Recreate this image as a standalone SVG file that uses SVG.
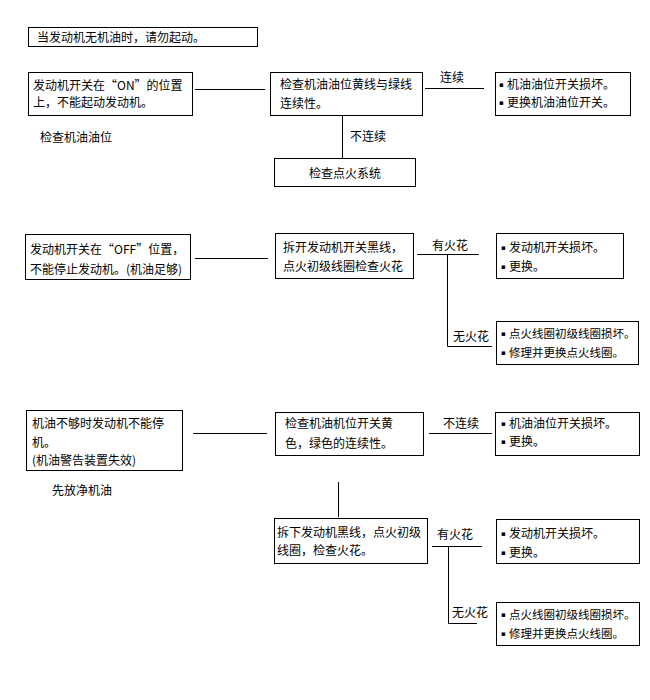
<svg xmlns="http://www.w3.org/2000/svg" width="650" height="700" viewBox="0 0 650 700">
<style>
  .box { fill: #ffffff; stroke: #000000; stroke-width: 1; }
  .t { font-family: "Noto Sans CJK SC", "Liberation Sans", sans-serif; font-size: 12px; fill: #000000; }
  .b { font-family: "DejaVu Sans", sans-serif; font-size: 7px; fill: #000000; }
  .s { font-size: 11.5px; }
  .c { text-anchor: middle; }
  .ln { stroke: #000000; stroke-width: 1; fill: none; }
</style>
<rect width="650" height="700" fill="#ffffff"/>

<g id="connectors">
  <line class="ln" x1="195" y1="89.5" x2="265" y2="89.5"/>
  <line class="ln" x1="425" y1="88.5" x2="484" y2="88.5"/>
  <line class="ln" x1="342.5" y1="115" x2="342.5" y2="158"/>
  <line class="ln" x1="195" y1="258.5" x2="268" y2="258.5"/>
  <line class="ln" x1="417" y1="254.5" x2="479" y2="254.5"/>
  <polyline class="ln" points="447.5,254.5 447.5,346.5 492,346.5"/>
  <line class="ln" x1="193" y1="433.5" x2="267" y2="433.5"/>
  <line class="ln" x1="429" y1="433.5" x2="492" y2="433.5"/>
  <line class="ln" x1="338.5" y1="482" x2="338.5" y2="517"/>
  <line class="ln" x1="432" y1="546.5" x2="482" y2="546.5"/>
  <polyline class="ln" points="448.5,546.5 448.5,623.5 477,623.5"/>
  <text class="t" x="440" y="82">连续</text>
  <text class="t" x="350" y="141">不连续</text>
  <text class="t" x="432" y="250">有火花</text>
  <text class="t" x="453" y="341">无火花</text>
  <text class="t" x="443" y="428">不连续</text>
  <text class="t" x="437" y="539">有火花</text>
  <text class="t" x="452" y="617">无火花</text>
</g>

<g id="note-top">
  <rect class="box" x="28.5" y="27.5" width="229" height="19"/>
  <text class="t" x="37" y="41.5">当发动机无机油时，请勿起动。</text>
</g>

<g id="n1">
  <rect class="box" x="28.5" y="72.5" width="164" height="43"/>
  <text class="t" x="33" y="89.5">发动机开关在“ON”的位置</text>
  <text class="t" x="33" y="106.5">上，不能起动发动机。</text>
</g>
<g id="note1">
  <text class="t" x="40" y="141.5">检查机油油位</text>
</g>
<g id="n2">
  <rect class="box" x="270.5" y="72.5" width="152" height="43"/>
  <text class="t" x="280" y="88.5">检查机油油位黄线与绿线</text>
  <text class="t" x="280" y="107.5">连续性。</text>
</g>
<g id="n3">
  <rect class="box" x="495.5" y="72.5" width="135" height="43"/>
  <text class="b" x="499" y="86.5">▪</text><text class="t" x="507" y="88.5">机油油位开关损坏。</text>
  <text class="b" x="499" y="104.5">▪</text><text class="t" x="507" y="106.5">更换机油油位开关。</text>
</g>
<g id="n4">
  <rect class="box" x="274.5" y="158.5" width="141" height="28"/>
  <text class="t c" x="345" y="177.5">检查点火系统</text>
</g>

<g id="n5">
  <rect class="box" x="25.5" y="234.5" width="165" height="45"/>
  <text class="t" x="30" y="253.5">发动机开关在“OFF”位置，</text>
  <text class="t" x="30" y="273.5">不能停止发动机。(机油足够)</text>
</g>
<g id="n6">
  <rect class="box" x="275.5" y="233.5" width="138" height="45"/>
  <text class="t" x="283" y="251.5">拆开发动机开关黑线，</text>
  <text class="t" x="283" y="270.5">点火初级线圈检查火花</text>
</g>
<g id="n7">
  <rect class="box" x="496.5" y="233.5" width="127" height="45"/>
  <text class="b" x="501" y="249.5">▪</text><text class="t" x="509" y="251.5">发动机开关损坏。</text>
  <text class="b" x="501" y="268.5">▪</text><text class="t" x="509" y="270.5">更换。</text>
</g>
<g id="n8">
  <rect class="box" x="496.5" y="321.5" width="142" height="43"/>
  <text class="b" x="501" y="335.5">▪</text><text class="t s" x="509" y="337.5">点火线圈初级线圈损坏。</text>
  <text class="b" x="501" y="354.5">▪</text><text class="t s" x="509" y="356.5">修理并更换点火线圈。</text>
</g>

<g id="n9">
  <rect class="box" x="26.5" y="410.5" width="156" height="60"/>
  <text class="t" x="32" y="427.5">机油不够时发动机不能停</text>
  <text class="t" x="32" y="446.5">机。</text>
  <text class="t" x="32" y="464.5">(机油警告装置失效)</text>
</g>
<g id="note3">
  <text class="t" x="52" y="494.5">先放净机油</text>
</g>
<g id="n10">
  <rect class="box" x="275.5" y="412.5" width="148" height="43"/>
  <text class="t" x="285" y="427.5">检查机油机位开关黄</text>
  <text class="t" x="285" y="447.5">色，绿色的连续性。</text>
</g>
<g id="n11">
  <rect class="box" x="495.5" y="412.5" width="144" height="43"/>
  <text class="b" x="501" y="425.5">▪</text><text class="t" x="509" y="427.5">机油油位开关损坏。</text>
  <text class="b" x="501" y="443.5">▪</text><text class="t" x="509" y="445.5">更换。</text>
</g>
<g id="n12">
  <rect class="box" x="274.5" y="518.5" width="153" height="45"/>
  <text class="t" x="277" y="536.5">拆下发动机黑线，点火初级</text>
  <text class="t" x="277" y="554.5">线圈，检查火花。</text>
</g>
<g id="n13">
  <rect class="box" x="496.5" y="519.5" width="143" height="44"/>
  <text class="b" x="501" y="535.5">▪</text><text class="t" x="509" y="537.5">发动机开关损坏。</text>
  <text class="b" x="501" y="554.5">▪</text><text class="t" x="509" y="556.5">更换。</text>
</g>
<g id="n14">
  <rect class="box" x="496.5" y="602.5" width="143" height="43"/>
  <text class="b" x="501" y="616.5">▪</text><text class="t s" x="509" y="618.5">点火线圈初级线圈损坏。</text>
  <text class="b" x="501" y="635.5">▪</text><text class="t s" x="509" y="637.5">修理并更换点火线圈。</text>
</g>
</svg>
